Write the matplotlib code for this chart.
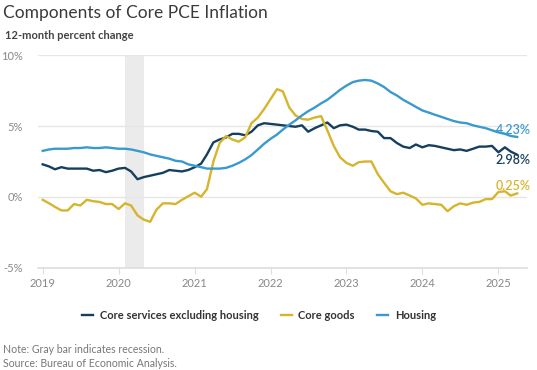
import numpy as np
import pandas as pd
import matplotlib; matplotlib.use("Agg"); import matplotlib.pyplot as plt
import matplotlib.dates as mdates

plt.rcParams["font.family"] = ["Lato", "DejaVu Sans"]

months = pd.date_range("2019-01-01", "2025-04-01", freq="MS")

# 12-month percent change
services_ex_housing = [
    2.3, 2.15, 1.95, 2.1, 2.0, 2.0, 2.0, 2.0, 1.85, 1.9, 1.75, 1.85,      # 2019
    2.0, 2.05, 1.8, 1.25, 1.4, 1.5, 1.6, 1.7, 1.9, 1.85, 1.8, 1.9,        # 2020
    2.1, 2.35, 3.0, 3.85, 4.05, 4.2, 4.45, 4.45, 4.35, 4.6, 5.05, 5.2,    # 2021
    5.15, 5.1, 5.05, 5.0, 4.95, 5.05, 4.6, 4.85, 5.05, 5.25, 4.85, 5.05,  # 2022
    5.1, 4.95, 4.75, 4.75, 4.65, 4.6, 4.15, 4.15, 3.8, 3.55, 3.45, 3.7,   # 2023
    3.5, 3.65, 3.6, 3.5, 3.4, 3.3, 3.35, 3.25, 3.4, 3.55, 3.55, 3.6,      # 2024
    3.15, 3.5, 3.2, 2.98,                                                 # 2025
]
core_goods = [
    -0.2, -0.45, -0.7, -0.95, -0.95, -0.5, -0.6, -0.2, -0.3, -0.35, -0.5, -0.5,
    -0.85, -0.45, -0.6, -1.3, -1.6, -1.75, -0.9, -0.45, -0.45, -0.5, -0.2, 0.05,
    0.3, 0.02, 0.55, 2.5, 3.8, 4.3, 4.05, 3.9, 4.2, 5.2, 5.6, 6.2,
    6.9, 7.6, 7.45, 6.3, 5.75, 5.5, 5.45, 5.6, 5.7, 4.7, 3.6, 2.8,
    2.4, 2.2, 2.45, 2.5, 2.5, 1.6, 1.0, 0.4, 0.2, 0.3, 0.1, -0.1,
    -0.55, -0.45, -0.5, -0.55, -1.0, -0.65, -0.45, -0.55, -0.4, -0.35, -0.15, -0.15,
    0.35, 0.4, 0.1, 0.25,
]
housing = [
    3.25, 3.35, 3.4, 3.4, 3.4, 3.45, 3.45, 3.5, 3.45, 3.45, 3.5, 3.45,
    3.4, 3.4, 3.35, 3.25, 3.15, 3.0, 2.9, 2.8, 2.7, 2.55, 2.5, 2.3,
    2.2, 2.1, 2.0, 2.0, 2.0, 2.05, 2.2, 2.4, 2.65, 2.95, 3.35, 3.75,
    4.1, 4.4, 4.75, 5.1, 5.4, 5.75, 6.05, 6.3, 6.6, 6.85, 7.2, 7.55,
    7.85, 8.1, 8.2, 8.25, 8.2, 8.0, 7.75, 7.4, 7.15, 6.85, 6.6, 6.35,
    6.1, 5.95, 5.8, 5.65, 5.5, 5.35, 5.25, 5.2, 5.05, 4.95, 4.85, 4.7,
    4.55, 4.45, 4.3, 4.23,
]
labels = ["Core services excluding housing", "Core goods", "Housing"]
colors = ["#163f5f", "#d6b42c", "#3a9acd"]
recession = ("2020-02-01", "2020-04-30")

fig = plt.figure(figsize=(5.37, 3.70), dpi=100)
ax = fig.add_axes([0.071, 0.276, 0.911, 0.575])

ax.axvspan(pd.Timestamp(recession[0]), pd.Timestamp(recession[1]), color="#ebebeb", lw=0, zorder=0)
for vals, lab, c in zip([services_ex_housing, core_goods, housing], labels, colors):
    ax.plot(months, vals, color=c, lw=1.7, label=lab, zorder=3)

# end-of-line value labels
end = months[-1] + pd.Timedelta(days=65)
for v, dy, c in [(housing[-1], 0.5, colors[2]), (services_ex_housing[-1], -0.4, colors[0]),
                 (core_goods[-1], 0.55, colors[1])]:
    ax.text(end, v + dy, f"{v:.2f}%", color=c, fontsize=9, ha="right", va="center",
            fontweight="semibold", zorder=4)

ax.set_ylim(-5, 10)
ax.set_xlim(pd.Timestamp("2018-12-10"), pd.Timestamp("2025-05-20"))
ax.set_yticks([-5, 0, 5, 10])
ax.set_yticklabels(["-5%", "0%", "5%", "10%"])
ax.xaxis.set_major_locator(mdates.YearLocator())
ax.xaxis.set_major_formatter(mdates.DateFormatter("%Y"))
ax.grid(axis="y", color="#e6e6e6", lw=1)
ax.set_axisbelow(True)
for s in ("top", "right", "left"):
    ax.spines[s].set_visible(False)
ax.spines["bottom"].set_color("#dcdce4")
ax.spines["bottom"].set_linewidth(1.2)
ax.tick_params(axis="y", length=0, pad=11, labelsize=8, labelcolor="#888888")
ax.tick_params(axis="x", length=4, color="#dcdce4", labelsize=8, labelcolor="#888888", pad=3)

leg = fig.legend(loc="center", bbox_to_anchor=(0.482, 0.148), ncol=3, frameon=False,
                 handlelength=1.0, handletextpad=0.6, columnspacing=2.0,
                 prop={"size": 8, "weight": "bold"})
for t in leg.get_texts():
    t.set_color("#333333")

fig.text(0.006, 0.965, "Components of Core PCE Inflation", fontsize=12.5,
         color="#3a3a3a", ha="left", va="center")
fig.text(0.009, 0.905, "12-month percent change", fontsize=8, fontweight="bold",
         color="#444444", ha="left", va="center")
fig.text(0.006, 0.055, "Note: Gray bar indicates recession.", fontsize=7.6, color="#777777",
         ha="left", va="center")
fig.text(0.006, 0.017, "Source: Bureau of Economic Analysis.", fontsize=7.6, color="#777777",
         ha="left", va="center")

fig.savefig("out.png", dpi=100)
